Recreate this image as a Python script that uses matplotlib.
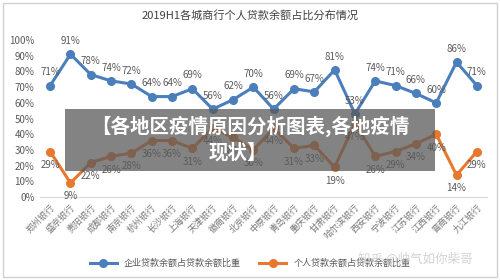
import matplotlib.pyplot as plt
from matplotlib.patches import Rectangle
import numpy as np

plt.rcParams['font.family'] = ['Noto Sans CJK SC', 'DejaVu Sans']

banks = ['郑州银行', '盛京银行', '贵阳银行', '成都银行', '南京银行', '杭州银行', '长沙银行',
         '上海银行', '天津银行', '徽商银行', '北京银行', '中原银行', '青岛银行', '重庆银行',
         '甘肃银行', '哈尔滨银行', '西安银行', '宁波银行', '江苏银行', '江西银行', '晋商银行', '九江银行']
corp = [71, 91, 78, 74, 72, 64, 64, 69, 56, 62, 70, 56, 69, 67, 81, 53, 74, 71, 66, 60, 86, 71]
pers = [29, 9, 22, 26, 28, 36, 36, 31, 44, 38, 30, 44, 31, 33, 19, 47, 26, 29, 34, 40, 14, 29]
yticks = [0, 10, 20, 30, 40, 50, 60, 70, 80, 90, 100]

blue = '#4a7fbc'
orange = '#e9782f'
txt = '#595959'

fig = plt.figure(figsize=(5, 2.8), dpi=100)
fig.patches.append(Rectangle((0.006, 0.012), 0.988, 0.976, transform=fig.transFigure,
                             fill=False, edgecolor='#d0d0d0', linewidth=1))
ax = fig.add_axes([0.08, 0.296, 0.894, 0.561])

x = np.arange(len(banks))
ax.plot(x, corp, color=blue, linewidth=2.2, marker='o', markersize=5.5, label='企业贷款余额占贷款余额比重')
ax.plot(x, pers, color=orange, linewidth=2.2, marker='o', markersize=5.5, label='个人贷款余额占贷款余额比重')

for i in x:
    ax.annotate(f'{corp[i]}%', (i, corp[i]), xytext=(0, 6), textcoords='offset points',
                ha='center', va='bottom', fontsize=7, color=txt)
    ax.annotate(f'{pers[i]}%', (i, pers[i]), xytext=(0, -6), textcoords='offset points',
                ha='center', va='top', fontsize=7, color=txt)

ax.set_xlim(-0.5, len(banks) - 0.5)
ax.set_ylim(0, 100)
ax.set_yticks(yticks)
ax.set_yticklabels([f'{v}%' for v in yticks], fontsize=7, color=txt)
ax.set_xticks(x)
ax.set_xticklabels(banks, rotation=45, ha='right', rotation_mode='anchor', fontsize=6.5, color='#7a7a7a')
ax.tick_params(length=0, pad=4)
for s in ['top', 'right', 'left']:
    ax.spines[s].set_visible(False)
ax.spines['bottom'].set_color('#d9d9d9')

fig.text(0.5, 0.945, '2019H1各城商行个人贷款余额占比分布情况', ha='center', va='center',
         fontsize=8, color='#404040', fontweight='medium')

fig.legend(loc='center', bbox_to_anchor=(0.5, 0.06), ncol=2, frameon=False, fontsize=6.5,
           labelcolor=txt, handlelength=3, columnspacing=2)

# overlay banner and watermark
fig.patches.append(Rectangle((0.13, 0.39), 0.74, 0.22, transform=fig.transFigure,
                             facecolor='#5a5a5a', alpha=0.75, edgecolor='none', zorder=5))
fig.text(0.5, 0.548, '【各地区疫情原因分析图表,各地疫情', ha='center', va='center', fontsize=14,
         color='white', fontweight='bold', zorder=6)
fig.text(0.475, 0.455, '现状】', ha='center', va='center', fontsize=14,
         color='white', fontweight='bold', zorder=6)
fig.text(0.83, 0.075, '知乎 @帅气如你柴哥', ha='center', va='center', fontsize=9,
         color='#c8c8c8', alpha=0.8, zorder=6)

fig.savefig('out.png', dpi=100)
